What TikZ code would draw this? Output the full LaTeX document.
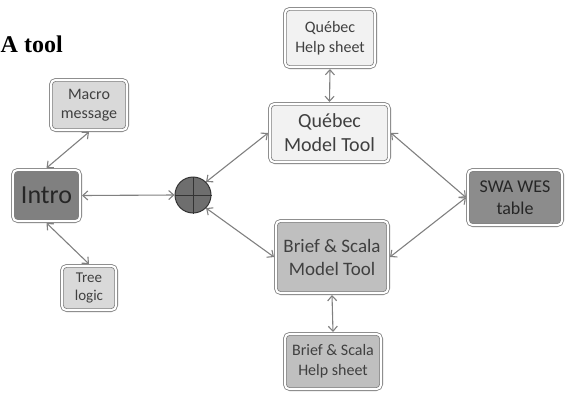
\documentclass[tikz,border=0pt]{standalone}
\usepackage{fontspec}
\setmainfont{Carlito}
\newfontfamily\titlefont{Liberation Serif}
\usetikzlibrary{arrows.meta}
\definecolor{edgegray}{HTML}{808080}
\definecolor{txtgray}{HTML}{404040}
\tikzset{
  boxbase/.style={rectangle, rounded corners=5pt, draw=edgegray, line width=0.8pt,
    double=white, double distance=2pt, inner sep=0pt, outer sep=1.8pt,
    align=center, text=txtgray},
  lightbox/.style={boxbase, fill=#1},
  link/.style={draw=edgegray, line width=1.1pt,
    {Straight Barb[length=5pt,width=9pt]}-{Straight Barb[length=5pt,width=9pt]}},
}
\begin{document}
\begin{tikzpicture}[x=1pt,y=-1pt]
\useasboundingbox (0,0) rectangle (565,394);
\node[anchor=base west, inner sep=0pt, font=\titlefont\bfseries\fontsize{24}{28}\selectfont] (title) at (0.5,52) {A tool};

\node[lightbox=black!15, minimum width=76.4pt, minimum height=50.4pt, font=\fontsize{16}{19.5}\selectfont] (macro) at (89,105) {Macro\\message};
\node[lightbox=black!50, text=black!85, minimum width=67.4pt, minimum height=51.4pt, font=\fontsize{26}{30}\selectfont] (intro) at (46.5,195.5) {Intro};
\node[lightbox=black!15, minimum width=54.4pt, minimum height=44.4pt, font=\fontsize{15}{18}\selectfont] (tree) at (89,288) {Tree\\logic};

\node[circle, fill=black!57, draw=black!80, line width=1pt, minimum size=36pt, inner sep=0pt] (plus) at (193,195) {};
\draw[black!80, line width=1pt] (plus.north) -- (plus.south) (plus.west) -- (plus.east);

\node[lightbox=black!5, minimum width=90.4pt, minimum height=58.4pt, font=\fontsize{16}{20}\selectfont] (qhelp) at (330,38) {Québec\\Help sheet};
\node[lightbox=black!5, minimum width=119.4pt, minimum height=58.4pt, font=\fontsize{20}{24}\selectfont] (qmodel) at (329.5,133) {Québec\\Model Tool};
\node[lightbox=black!45, text=black!85, minimum width=94.4pt, minimum height=55.4pt, font=\fontsize{18}{22}\selectfont] (swa) at (515,197.5) {SWA WES\\table};
\node[lightbox=black!25, minimum width=112.4pt, minimum height=72.4pt, font=\fontsize{19}{23}\selectfont] (bmodel) at (332,257) {Brief \& Scala\\Model Tool};
\node[lightbox=black!25, minimum width=96.4pt, minimum height=55.4pt, font=\fontsize{16}{20}\selectfont] (bhelp) at (333,361.5) {Brief \& Scala\\Help sheet};

\draw[link] (macro.south) -- (intro.north);
\draw[link] (intro.south) -- (tree.north);
\draw[link] (intro.east) -- (plus.west);
\draw[link] (plus.north east) -- (qmodel.west);
\draw[link] (plus.south east) -- (bmodel.west);
\draw[link] (qhelp.south) -- (qmodel.north);
\draw[link] (bmodel.south) -- (bhelp.north);
\draw[link] (qmodel.east) -- (swa.west);
\draw[link] (swa.west) -- (bmodel.east);
\end{tikzpicture}
\end{document}
